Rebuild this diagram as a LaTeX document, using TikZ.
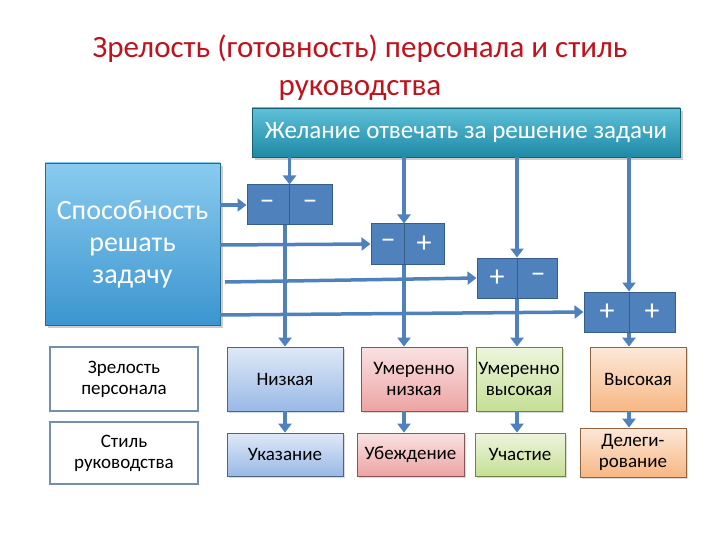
\documentclass[tikz,border=0pt]{standalone}
\usepackage{fontspec}
\setmainfont{Carlito}
\usetikzlibrary{arrows.meta,shadows}
\definecolor{arr}{HTML}{4F81BD}
\definecolor{arrd}{HTML}{385D8A}
\definecolor{ttl}{HTML}{C0121C}
\definecolor{cb}{HTML}{7FA7E0}
\definecolor{cr}{HTML}{E98C8C}
\definecolor{cg}{HTML}{B7D77A}
\definecolor{co}{HTML}{F5A565}
\definecolor{tt1}{HTML}{5FC0D8}
\definecolor{tt2}{HTML}{1E8AA6}
\definecolor{lb1}{HTML}{8ACBEF}
\definecolor{lb2}{HTML}{3B95CF}
\begin{document}
\begin{tikzpicture}[x=1pt,y=-1pt,
 ar/.style={draw=arr,line width=3.5pt,-{Triangle[length=9pt,width=13pt]}},
 pm/.style={draw=arrd,fill=arr,line width=1pt,minimum width=#1,minimum height=40pt,inner sep=0pt},
 sg/.style={text=white,font=\fontsize{30}{30}\selectfont},
 lvl/.style={draw=#1!60!black,top color=#1!25!white,bottom color=#1!80!white,line width=0.8pt,align=center,inner sep=1pt,font=\fontsize{19}{21}\selectfont,drop shadow={opacity=0.3,shadow xshift=2pt,shadow yshift=-2pt}},
 lab/.style={draw=arrd!70,line width=1.2pt,fill=white,align=center,font=\fontsize{19}{21}\selectfont,minimum width=148pt}]
\useasboundingbox (0,0) rectangle (720,540);
\node[text=ttl,font=\fontsize{31}{38}\selectfont,align=center] (title) at (360,68) {Зрелость (готовность) персонала и стиль\\руководства};
\node[top color=tt1,bottom color=tt2,draw=tt2!70!black,minimum width=428pt,minimum height=49pt,text=white,font=\fontsize{25}{25}\selectfont,drop shadow={opacity=0.4,shadow xshift=3pt,shadow yshift=-3pt}] (want) at (466,132.5) {Желание отвечать за решение задачи};
\node[top color=lb1,bottom color=lb2,draw=lb2!70!black,minimum width=175pt,minimum height=162pt,text=white,align=center,font=\fontsize{28}{32}\selectfont,drop shadow={opacity=0.4,shadow xshift=3pt,shadow yshift=-3pt}] (abil) at (132.5,244) {Способность\\решать\\задачу};
% plus-minus boxes
\node[pm=85pt] (b1) at (289.5,205) {};
\node[pm=73pt] (b2) at (407.5,244) {};
\node[pm=80pt] (b3) at (517,278) {};
\node[pm=91pt] (b4) at (629.5,312) {};
\draw[arrd,line width=1pt] (b1.north) -- (b1.south) ([xshift=-3pt]b2.north) -- ([xshift=-3pt]b2.south) (b3.north) -- (b3.south) (b4.north) -- (b4.south);
\node[sg] (s11) at (267,205) {–};
\node[sg] (s12) at (310,205) {–};
\node[sg] (s21) at (388,244) {–};
\node[sg] (s22) at (424,244) {+};
\node[sg] (s31) at (497,278) {+};
\node[sg] (s32) at (538,278) {–};
\node[sg] (s41) at (607,312) {+};
\node[sg] (s42) at (652,312) {+};
% bottom
\node[lab,minimum height=64pt] (zr) at (124,379) {Зрелость\\персонала};
\node[lab,minimum height=62pt] (st) at (124,453) {Стиль\\руководства};
\node[lvl=cb,minimum width=116pt,minimum height=64pt] (l1) at (285,379) {Низкая};
\node[lvl=cr,minimum width=106pt,minimum height=64pt] (l2) at (414,379) {Умеренно\\низкая};
\node[lvl=cg,minimum width=86pt,minimum height=64pt] (l3) at (519,379) {Умеренно\\высокая};
\node[lvl=co,minimum width=96pt,minimum height=64pt] (l4) at (638,379) {Высокая};
\node[lvl=cb,minimum width=116pt,minimum height=43pt] (m1) at (285,454.5) {Указание};
\node[lvl=cr,minimum width=107pt,minimum height=43pt] (m2) at (410.5,454.5) {Убеждение};
\node[lvl=cg,minimum width=90pt,minimum height=43pt] (m3) at (520,454.5) {Участие};
\node[lvl=co,minimum width=106pt,minimum height=49pt] (m4) at (633,452.5) {Делеги-\\рование};
% arrows
\coordinate (h2) at (220,245); \coordinate (h3) at (225,282); \coordinate (h4) at (220,315);
\coordinate (x2) at (404,0); \coordinate (x3) at (517,0); \coordinate (x4) at (629,0);
\draw[ar] (abil.east |- b1) -- (b1.west);
\draw[ar] (h2) -- (b2.west);
\draw[ar] (h3) -- (b3.west);
\draw[ar] (h4) -- (b4.west);
\draw[ar] (want.south -| b1) -- (b1.north);
\draw[ar] (want.south -| x2) -- (b2.north -| x2);
\draw[ar] (want.south -| x3) -- (b3.north -| x3);
\draw[ar] (want.south -| x4) -- (b4.north -| x4);
\draw[ar] (b1.south -| l1) -- (l1.north);
\draw[ar] (b2.south -| x2) -- (l2.north -| x2);
\draw[ar] (b3.south -| x3) -- (l3.north -| x3);
\draw[ar] (b4.south -| x4) -- (l4.north -| x4);
\draw[ar] (l1.south) -- (m1.north);
\draw[ar] (l2.south -| x2) -- (m2.north -| x2);
\draw[ar] (l3.south -| x3) -- (m3.north -| x3);
\draw[ar] (l4.south -| x4) -- (m4.north -| x4);
\end{tikzpicture}
\end{document}
